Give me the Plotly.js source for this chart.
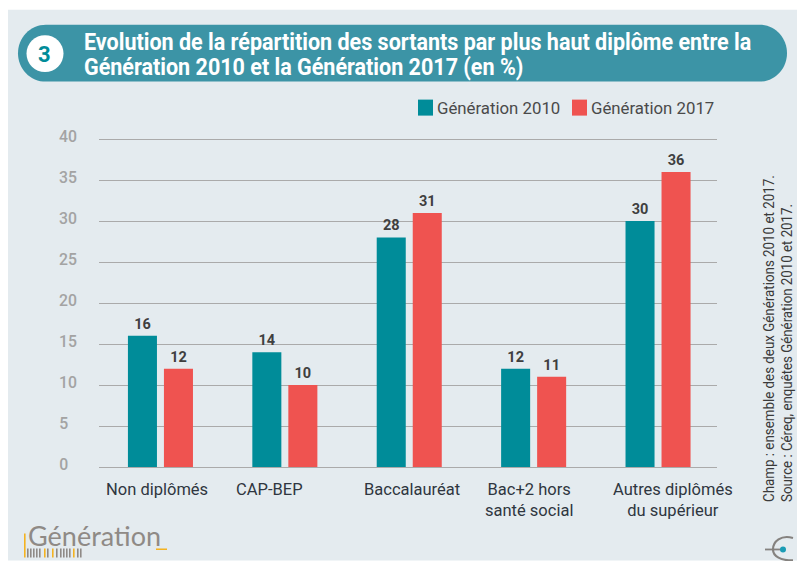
<!DOCTYPE html>
<html><head><meta charset="utf-8">
<script src="https://cdn.plot.ly/plotly-3.0.1.min.js"></script>
<style>html,body{margin:0;padding:0;background:#fff}</style></head>
<body><div id="chart" style="width:797px;height:561px"></div>
<script>
const categories = ["Non diplômés", "CAP-BEP", "Baccalauréat", "Bac+2 hors<br>santé social", "Autres diplômés<br>du supérieur"];
const gen2010 = [16, 14, 28, 12, 30];
const gen2017 = [12, 10, 31, 11, 36];
const yTicks = [0, 5, 10, 15, 20, 25, 30, 35, 40];
const titleLine1 = "Evolution de la répartition des sortants par plus haut diplôme entre la";
const titleLine2 = "Génération 2010 et la Génération 2017 (en %)";
const champ = "Champ : ensemble des deux Générations 2010 et 2017.";
const source = "Source : Céreq, enquêtes Génération 2010 et 2017.";

const L=99,R=717,B=467.5,T=B-8.2*40.5;
const X=x=>(x-L)/(R-L), Y=y=>(B-y)/(B-T);
const P=(x,y)=>X(x).toFixed(5)+","+Y(y).toFixed(5);
const rect=(x0,y0,x1,y1,c,layer)=>({type:"rect",xref:"paper",yref:"paper",x0:X(x0),x1:X(x1),y0:Y(y0),y1:Y(y1),fillcolor:c,line:{width:0},layer:layer||"below"});
const gray="#8f8a86", amber="#f4b321";
const barcode=[[27,gray],[30,gray],[33,gray],[36,gray],[39,gray],[44,amber],[47,gray],[52,amber],[56,gray],[60,gray],[63,gray],[66,gray],[69,gray],[73,amber],[77,gray],[80,gray]]
  .map(b=>rect(b[0],549,b[0]+1.6,558,b[1]));

const shapes=[
 rect(8,10,797,561,"#e4ebef"),
 {type:"path",xref:"paper",yref:"paper",layer:"below",fillcolor:"#3c94a6",line:{width:0},
  path:`M ${P(46,25)} L ${P(759,25)} C ${P(775,25)} ${P(787,38)} ${P(787,53.5)} C ${P(787,69)} ${P(775,82)} ${P(759,82)} L ${P(46,82)} C ${P(30,82)} ${P(18,69)} ${P(18,53.5)} C ${P(18,38)} ${P(30,25)} ${P(46,25)} Z`},
 {type:"circle",xref:"paper",yref:"paper",layer:"above",fillcolor:"#ffffff",line:{width:0},x0:X(26.5),x1:X(63.5),y0:Y(35.5),y1:Y(72.5)},
 rect(418,100,433,116,"#008c99","above"),
 rect(572,100,587,116,"#ef5350","above"),
 rect(24,534,25.6,558,amber),
 rect(156,549,167,550.5,amber),
 ...barcode,
 {type:"path",xref:"paper",yref:"paper",layer:"below",fillcolor:"rgba(0,0,0,0)",line:{width:2.2,color:"#85827f"},
  path:`M ${P(793,538.5)} C ${P(781,535)} ${P(773,542)} ${P(773,550)} C ${P(773,557)} ${P(781,561)} ${P(793,561)}`},
 {type:"path",xref:"paper",yref:"paper",layer:"below",fillcolor:"rgba(0,0,0,0)",line:{width:1.8,color:"#85827f"},
  path:`M ${P(765,550)} L ${P(782,550)}`},
 {type:"circle",xref:"paper",yref:"paper",layer:"below",fillcolor:"#1b9cb5",line:{width:0},x0:X(780),x1:X(786),y0:Y(547),y1:Y(553)}
];
const RB="Roboto, sans-serif";
const ann=(x,y,text,font,extra)=>Object.assign({xref:"paper",yref:"paper",x:X(x),y:Y(y),text,showarrow:false,font,align:"left",xanchor:"left",yanchor:"middle"},extra||{});
const labelShift=[-3,-15,3,-5,15];
const annotations=[
 ann(82,43,titleLine1,{family:RB,size:23,color:"#ffffff",weight:700}),
 ann(82,68,titleLine2,{family:RB,size:23,color:"#ffffff",weight:700}),
 ann(44,55,"3",{family:RB,size:22,color:"#008c99",weight:700},{xanchor:"center"}),
 ann(435,108,"Génération 2010",{family:RB,size:16.8,color:"#4a4a4a"}),
 ann(589,108,"Génération 2017",{family:RB,size:16.8,color:"#4a4a4a"}),
 ann(26,536,"Génération",{family:"Lato, sans-serif",size:27,color:"#8f8a86",weight:400}),
 ann(769,505,champ,{family:RB,size:15,color:"#3a3a3a"},{textangle:-90,xanchor:"center",yanchor:"bottom"}),
 ann(787,505,source,{family:RB,size:15,color:"#3a3a3a"},{textangle:-90,xanchor:"center",yanchor:"bottom"}),
 ...categories.map((c,i)=>({xref:"x",yref:"paper",x:i,y:Y(479),xshift:labelShift[i],text:c,showarrow:false,align:"center",xanchor:"center",yanchor:"top",
   font:{family:RB,size:16.5,color:"#2f3640"}}))
];
const labelFont={family:RB,size:14.5,color:"#3f3f3f",weight:700};
const mk=(name,y,c)=>({type:"bar",name,x:categories,y,marker:{color:c,line:{width:0}},text:y.map(String),textposition:"outside",textfont:labelFont,cliponaxis:false,hoverinfo:"skip"});
Plotly.newPlot("chart",[mk("Génération 2010",gen2010,"#008c99"),mk("Génération 2017",gen2017,"#ef5350")],{
 width:797,height:561,showlegend:false,
 margin:{l:L,r:797-R,t:T,b:561-B,pad:0},
 paper_bgcolor:"#ffffff",plot_bgcolor:"rgba(0,0,0,0)",
 bargap:0.421,bargroupgap:0.194,barmode:"group",
 xaxis:{type:"category",range:[-0.494,4.474],fixedrange:true,showgrid:false,zeroline:false,showline:true,linecolor:"#aaaaaa",linewidth:1,ticks:"",showticklabels:false},
 yaxis:{range:[0,40.5],tickvals:yTicks,ticktext:yTicks.map(v=>v<10?v+"\u2007":String(v)),fixedrange:true,showgrid:true,gridcolor:"#aaaaaa",gridwidth:1,zeroline:false,showline:false,ticks:"",
   tickfont:{family:RB,size:15.8,color:"#a3a3a3",weight:500},ticklabelstandoff:21,ticklabelshift:-3},
 shapes,annotations
},{staticPlot:true,displayModeBar:false}).then(()=>{
 const squeeze=[[titleLine1,0.936],[titleLine2,0.936],[champ,0.89],[source,0.885]];
 document.querySelectorAll(".annotation-text").forEach(t=>{
   const hit=squeeze.find(s=>s[0]===t.textContent);
   if(!hit) return;
   const bx=t.getBBox().x;
   t.setAttribute("transform",`translate(${bx},0) scale(${hit[1]},1) translate(${-bx},0)`);
 });
});
</script></body></html>
